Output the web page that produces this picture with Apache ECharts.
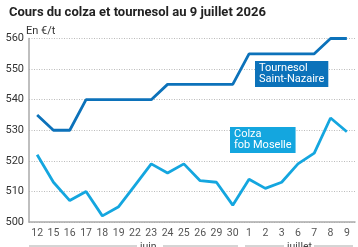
<!DOCTYPE html>
<html>
<head>
<meta charset="utf-8">
<script src="https://cdn.jsdelivr.net/npm/echarts@6/dist/echarts.min.js"></script>
<style>
  html, body { margin: 0; padding: 0; background: #fff; }
  #chart { width: 358px; height: 247px; }
</style>
</head>
<body>
<div id="chart"></div>
<script>
const days = ['12', '15', '16', '17', '18', '19', '22', '23', '24', '25', '26', '29', '30', '1', '2', '3', '6', '7', '8', '9'];
const tournesol = [535, 530, 530, 540, 540, 540, 540, 540, 545, 545, 545, 545, 545, 555, 555, 555, 555, 555, 560, 560];
const colza = [522, 513, 507, 510, 502, 505, 512, 519, 516, 519, 513.5, 513, 505.5, 514, 511, 513, 519, 522.5, 534, 529.5];
const yTicks = [500, 510, 520, 530, 540, 550, 560];

const font = 'Roboto, "Liberation Sans", sans-serif';
const darkBlue = '#0c72ba';
const lightBlue = '#14a6df';

const chart = echarts.init(document.getElementById('chart'), null, { renderer: 'canvas' });

chart.setOption({
  animation: false,
  title: {
    text: 'Cours du colza et tournesol au 9 juillet 2026',
    left: 4,
    top: 1,
    textStyle: { fontFamily: font, fontSize: 13, fontWeight: 'bold', color: '#222' }
  },
  grid: { left: 29, right: 3, top: 38.5, bottom: 25 },
  xAxis: {
    type: 'category',
    data: days,
    boundaryGap: true,
    axisLine: { lineStyle: { color: '#aaa', width: 1.5 } },
    axisTick: { show: false },
    axisLabel: { color: '#555', fontFamily: font, fontSize: 10.5, margin: 6, interval: 0 }
  },
  yAxis: {
    type: 'value',
    min: yTicks[0],
    max: yTicks[yTicks.length - 1],
    interval: 10,
    axisLine: { show: true, lineStyle: { color: '#aaa', width: 1.5 } },
    axisTick: { show: false },
    axisLabel: { color: '#333', fontFamily: font, fontSize: 11, margin: 5 },
    splitLine: { lineStyle: { color: '#bbb', type: [1, 1.5], width: 1 } }
  },
  series: [
    {
      name: 'Tournesol Saint-Nazaire',
      type: 'line',
      data: tournesol,
      symbol: 'none',
      lineStyle: { color: darkBlue, width: 2.8 },
      itemStyle: { color: darkBlue }
    },
    {
      name: 'Colza fob Moselle',
      type: 'line',
      data: colza,
      symbol: 'none',
      lineStyle: { color: lightBlue, width: 2.8 },
      itemStyle: { color: lightBlue }
    }
  ],
  graphic: [
    // unit label above the y axis
    { type: 'text', left: 26, top: 26, style: { text: 'En €/t', fill: '#333', font: '11px ' + font } },
    {
      type: 'text', left: 255, top: 61, z: 10,
      style: {
        text: 'Tournesol\nSaint-Nazaire', fill: '#fff', font: '11px ' + font,
        backgroundColor: darkBlue, padding: [2, 4, 2, 4], lineHeight: 11
      }
    },
    {
      type: 'text', left: 230, top: 127, z: 10,
      style: {
        text: 'Colza\nfob Moselle', fill: '#fff', font: '11px ' + font,
        backgroundColor: lightBlue, padding: [2, 4, 2, 4], lineHeight: 11
      }
    },
    // month brackets under the day labels
    { type: 'line', shape: { x1: 29, y1: 246, x2: 137, y2: 246 }, style: { stroke: '#aaa', lineWidth: 1 } },
    { type: 'line', shape: { x1: 163, y1: 246, x2: 238, y2: 246 }, style: { stroke: '#aaa', lineWidth: 1 } },
    { type: 'text', left: 140, top: 242, style: { text: 'juin', fill: '#444', font: '10.5px ' + font } },
    { type: 'line', shape: { x1: 245, y1: 246, x2: 284, y2: 246 }, style: { stroke: '#aaa', lineWidth: 1 } },
    { type: 'line', shape: { x1: 314, y1: 246, x2: 353, y2: 246 }, style: { stroke: '#aaa', lineWidth: 1 } },
    { type: 'text', left: 287, top: 242, style: { text: 'juillet', fill: '#444', font: '10.5px ' + font } }
  ]
});
</script>
</body>
</html>
